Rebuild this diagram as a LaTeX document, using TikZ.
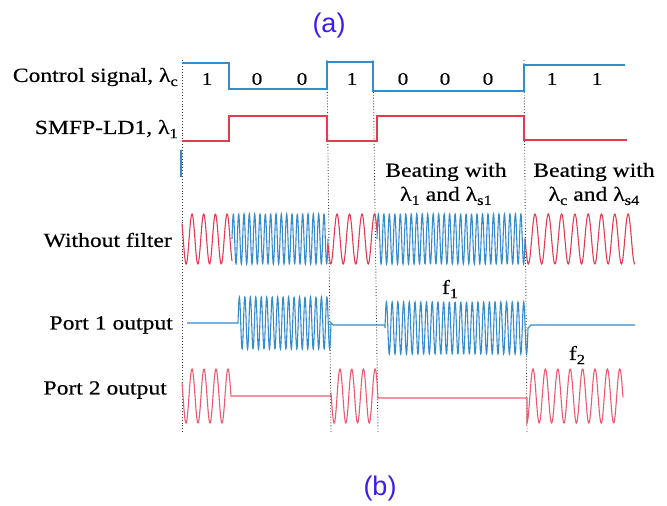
\documentclass[tikz,border=0pt]{standalone}
\usepackage{fontspec}
\setmainfont{Liberation Serif}[FakeStretch=1.18,FakeBold=0.4]
\newfontfamily\labfont{Liberation Sans}
\newcommand{\sbs}[1]{\raisebox{-0.45ex}{\fontsize{14}{14}\selectfont #1}}
\definecolor{wblue}{RGB}{50,140,205}
\definecolor{wred}{RGB}{225,60,80}
\definecolor{pred}{RGB}{235,90,110}
\definecolor{capblue}{RGB}{60,30,235}
\tikzset{
  bluesig/.style={draw=wblue,line width=1.2pt},
  bluewave/.style={draw=wblue,line width=1.1pt},
  redsig/.style={draw=wred,line width=1.1pt},
  pinksig/.style={draw=pred,line width=1.1pt},
  divider/.style={draw=black!75,dotted,line width=0.9pt},
  rowlab/.style={anchor=east,inner sep=0pt,font=\fontsize{20}{24}\selectfont},
  bitlab/.style={inner sep=0pt,font=\fontsize{18}{20}\selectfont},
  notelab/.style={inner sep=0pt,align=center,font=\fontsize{20}{24}\selectfont},
  caplab/.style={inner sep=0pt,text=capblue,font=\labfont\fontsize{27}{30}\selectfont}
}
\begin{document}
\begin{tikzpicture}[x=1pt,y=-1pt]
\useasboundingbox (0,0) rectangle (667,506);
% captions
\node[caplab] (capa) at (329,26) {(a)};
\node[caplab] (capb) at (380,489) {(b)};
% dividers
\draw[divider] (182,60) -- (182,432);
\draw[divider] (327,60) -- (331,432);
\draw[divider] (373,60) -- (378,432);
\draw[divider] (524,60) -- (527,432);
% row labels
\node[rowlab] (lctl) at (178,77) {Control signal, λ\sbs{c}};
\node[rowlab] (lld) at (178,129) {SMFP-LD1, λ\sbs{1}};
\node[rowlab] (lwf) at (172,240) {Without filter};
\node[rowlab] (lp1) at (173,325) {Port 1 output};
\node[rowlab] (lp2) at (167,390) {Port 2 output};
% bits
\node[bitlab] (b1) at (207,79) {1};
\node[bitlab] (b2) at (257,79) {0};
\node[bitlab] (b3) at (302,79) {0};
\node[bitlab] (b4) at (352,79) {1};
\node[bitlab] (b5) at (403,79) {0};
\node[bitlab] (b6) at (445,79) {0};
\node[bitlab] (b7) at (488,79) {0};
\node[bitlab] (b8) at (552,79) {1};
\node[bitlab] (b9) at (597,79) {1};
% control signal
\draw[bluesig] (182,63) -- (229,63) -- (229,89) -- (327,89) -- (327,62) -- (373,62) -- (373,91) -- (524,91) -- (524,65) -- (625,65);
% SMFP-LD1
\draw[redsig] (182,141) -- (229,141) -- (229,116) -- (327,116) -- (327,141) -- (377,141) -- (377,116) -- (524,116) -- (524,140) -- (627,140);
\draw[bluesig] (181,150) -- (181,177);
% notes
\node[notelab] (n1) at (446,184) {Beating with\\λ\sbs{1} and λ\sbs{s1}};
\node[notelab] (n2) at (594,184) {Beating with\\λ\sbs{c} and λ\sbs{s4}};
\node[notelab] (nf1) at (450,289) {f\sbs{1}};
\node[notelab] (nf2) at (577,355) {f\sbs{2}};
% without filter
\draw[redsig] plot[domain=182:232,samples=120,smooth] (\x,{239-25*cos((\x-192)/11.7*360)});
\draw[bluewave] plot[domain=232:328,samples=400] (\x,{239-25*sin((\x-232)/5.333*360)});
\draw[redsig] plot[domain=328:377,samples=120,smooth] (\x,{239-25*cos((\x-337)/12.5*360)});
\draw[bluewave] plot[domain=377:525,samples=620] (\x,{239-25*sin((\x-377)/5.481*360)});
\draw[redsig] plot[domain=525:635,samples=260,smooth] (\x,{239-25*cos((\x-535)/13.3*360)});
% port 1
\draw[bluewave] (187,323) -- plot[domain=238:331,samples=400] (\x,{323-26*sin((\x-238)/5.47*360)}) -- (333,325) -- (385,325)
  -- plot[domain=385:528,samples=600] (\x,{328-26*sin((\x-385)/5.72*360)}) -- (531,325) -- (635,325);
% port 2
\draw[pinksig] plot[domain=182:230,samples=120,smooth] (\x,{396-27*cos((\x-192)/12*360)}) -- (231,396) -- (331,396)
  -- plot[domain=331:377,samples=120,smooth] (\x,{396-27*cos((\x-340)/11.7*360)}) -- (378,398) -- (527,398)
  -- plot[domain=527:623,samples=240,smooth] (\x,{396-27*cos((\x-533)/12.4*360)});
\end{tikzpicture}
\end{document}
